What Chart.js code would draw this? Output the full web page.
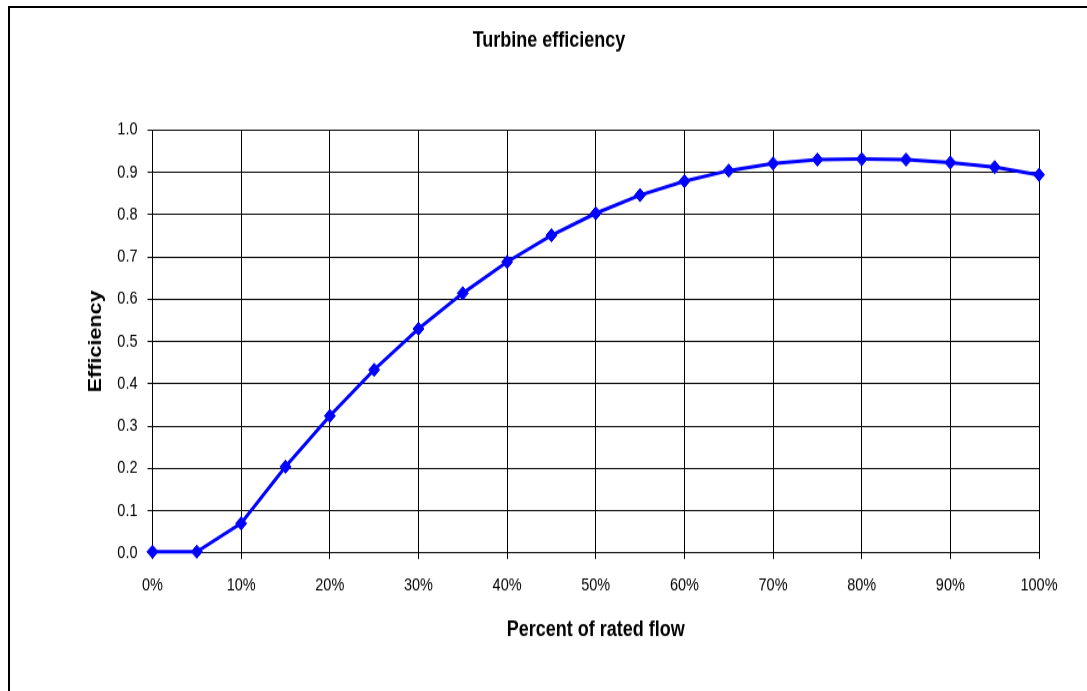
<!DOCTYPE html>
<html>
<head>
<meta charset="utf-8">
<title>Turbine efficiency</title>
<script src="https://cdn.jsdelivr.net/npm/chart.js@4/dist/chart.umd.min.js"></script>
<style>
    html, body { margin: 0; padding: 0; background: #fff; overflow: hidden; }
    #frame {
        position: absolute; left: 8px; top: 6px;
        width: 2000px; height: 2000px;
        border: 2px solid #000;
    }
    /* the source chart is stretched vertically, so draw at 576px and scale up */
    #wrap {
        position: absolute; left: 0; top: 0;
        width: 1087px; height: 576px;
        transform-origin: 0 0;
        transform: scaleY(1.2);
    }
</style>
</head>
<body>
<div id="frame"></div>
<div id="wrap"><canvas id="effChart"></canvas></div>
<script>
// Percent of rated flow (x) and turbine efficiency (y)
const flowPercent = [0, 5, 10, 15, 20, 25, 30, 35, 40, 45, 50, 55, 60, 65, 70, 75, 80, 85, 90, 95, 100];
const efficiency = [0.003, 0.003, 0.070, 0.204, 0.324, 0.433, 0.530, 0.614, 0.688, 0.751, 0.803, 0.846, 0.879, 0.904, 0.921, 0.930, 0.931, 0.930, 0.923, 0.912, 0.894];

// Axis ranges / tick steps
const xTicks = { min: 0, max: 100, step: 10 };
const yTicks = { min: 0, max: 1, step: 0.1 };

const points = flowPercent.map((x, i) => ({ x: x, y: efficiency[i] }));

Chart.defaults.font.family = '"Liberation Sans", Arial, sans-serif';
Chart.defaults.color = '#000';

new Chart(document.getElementById('effChart'), {
    type: 'line',
    data: {
        datasets: [{
            label: 'Efficiency',
            data: points,
            borderColor: '#0000ff',
            backgroundColor: '#0000ff',
            borderWidth: 3,
            tension: 0,
            pointStyle: 'rectRot',
            pointRadius: 5.5,
            pointBorderWidth: 1,
            pointBackgroundColor: '#0000ff',
            pointBorderColor: '#0000ff',
            clip: false
        }]
    },
    options: {
        responsive: true,
        maintainAspectRatio: false,
        animation: false,
        layout: { padding: { left: 59, right: 48, top: 0, bottom: 0 } },
        plugins: {
            legend: { display: false },
            tooltip: { enabled: false },
            title: {
                display: true,
                text: 'Turbine efficiency',
                color: '#000',
                font: { size: 18, weight: 'bold' },
                padding: { top: 23.5, bottom: 63.2 }
            }
        },
        scales: {
            x: {
                type: 'linear',
                min: xTicks.min,
                max: xTicks.max,
                grid: { color: '#000', lineWidth: 1, tickLength: 5 },
                border: { color: '#000', width: 1 },
                ticks: {
                    stepSize: xTicks.step,
                    padding: 13,
                    color: '#000',
                    font: { size: 14.5 },
                    maxRotation: 0,
                    callback: v => v + '%'
                },
                title: {
                    display: true,
                    text: 'Percent of rated flow',
                    color: '#000',
                    font: { size: 18, weight: 'bold' },
                    padding: { top: 0, bottom: 40.6 }
                },
                afterFit: scale => { scale.height = 115.2; }
            },
            y: {
                min: yTicks.min,
                max: yTicks.max,
                grid: { color: '#000', lineWidth: 1, tickLength: 5 },
                border: { color: '#000', width: 1 },
                ticks: {
                    stepSize: yTicks.step,
                    padding: 10,
                    color: '#000',
                    font: { size: 14.5 },
                    callback: v => v.toFixed(1)
                },
                title: {
                    display: true,
                    text: 'Efficiency',
                    color: '#000',
                    font: { size: 18, weight: 'bold' },
                    padding: { top: 26.5, bottom: 0 }
                },
                afterFit: scale => { scale.width = 93.5; }
            }
        }
    }
});
</script>
</body>
</html>
